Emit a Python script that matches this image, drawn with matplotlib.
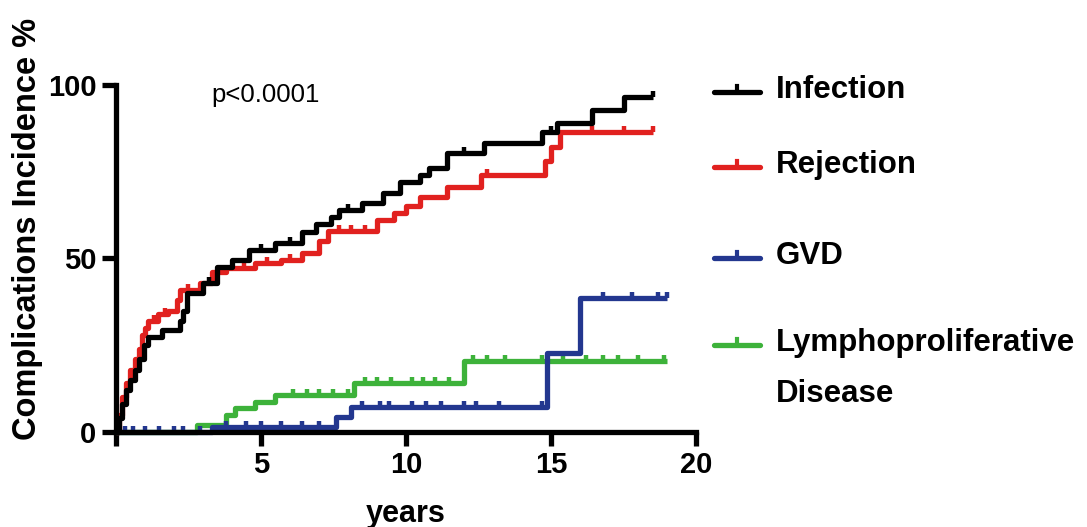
import numpy as np
import matplotlib
matplotlib.use("Agg")
import matplotlib.pyplot as plt
from matplotlib.path import Path
from matplotlib.lines import Line2D

plt.rcParams['font.family'] = ['Liberation Sans', 'DejaVu Sans']

# step curves: event times (years) and cumulative incidence (%) after each step
inf_t = [0, 0.1, 0.2, 0.35, 0.5, 0.65, 0.8, 0.95, 1.1, 1.6, 2.2, 2.3, 2.45, 3.0, 3.5, 4.0,
         4.6, 5.5, 6.4, 6.9, 7.4, 7.7, 8.5, 9.2, 9.8, 10.5, 10.8, 11.4, 12.7, 14.7, 15.2, 16.4, 17.5]
inf_y = [0, 4, 8, 12, 15, 18, 21, 25, 27.5, 29.5, 32, 35, 40, 43, 47.5, 49.5,
         52.5, 54.5, 57.5, 60, 62, 64, 66, 69, 72, 74, 76, 80.5, 83.3, 86.5, 89, 92.8, 96.5]
inf_end = 18.5
inf_cens = [3.2, 5.0, 6.0, 8.0, 12.0, 15.0, 18.5]

rej_t = [0, 0.1, 0.2, 0.35, 0.5, 0.65, 0.8, 0.9, 1.0, 1.1, 1.45, 1.8, 2.1, 2.2, 2.9, 3.3,
         3.8, 4.8, 5.7, 6.4, 7.0, 7.3, 9.0, 9.6, 10.0, 10.5, 11.4, 12.6, 14.8, 15.0, 15.3]
rej_y = [0, 5, 10, 14, 18, 21, 24, 28, 30, 32, 34, 35, 38, 41, 43, 46,
         47.3, 48.7, 49.6, 51.6, 55, 58, 61, 63, 65, 67.8, 70.6, 74, 78, 82, 86.5]
rej_end = 18.5
rej_cens = [1.3, 1.7, 2.5, 3.6, 4.4, 5.2, 6.0, 7.7, 8.1, 8.6, 12.8, 16.4, 17.5, 18.5]

gvd_t = [0, 3.3, 7.6, 8.1, 14.85, 16.0]
gvd_y = [0, 1.5, 4.3, 7.3, 22.8, 38.6]
gvd_end = 19.0
gvd_cens = [0.3, 0.6, 1.0, 1.5, 2.0, 2.3, 2.9, 3.8, 4.5, 5.0, 5.7, 6.4, 7.0,
            8.5, 9.1, 9.4, 10.2, 10.7, 11.2, 12.0, 12.4, 13.2, 14.7, 16.8, 17.8, 18.7, 19.0]

lpd_t = [0, 2.8, 3.8, 4.1, 4.8, 5.5, 8.2, 12.0]
lpd_y = [0, 2, 5, 7, 8.5, 10.7, 14, 20.5]
lpd_end = 19.0
lpd_cens = [6.1, 6.6, 7.0, 7.5, 8.0, 8.6, 9.0, 9.5, 10.2, 10.6, 11.0, 11.5,
            12.3, 12.8, 13.4, 14.7, 15.4, 16.2, 16.8, 17.3, 18.0, 18.9]

names = ["Infection", "Rejection", "GVD", "Lymphoproliferative\nDisease"]
colors = ["#000000", "#e1211f", "#23378f", "#3db23a"]

series = [(inf_t, inf_y, inf_end, inf_cens), (rej_t, rej_y, rej_end, rej_cens),
          (gvd_t, gvd_y, gvd_end, gvd_cens), (lpd_t, lpd_y, lpd_end, lpd_cens)]

fig = plt.figure(figsize=(10.87, 5.27), dpi=100)
ax = fig.add_axes([0.1067, 0.1803, 0.5336, 0.6584])

tick_marker = Path([(0, 0), (0, 1)])

# draw back to front so black ends up on top
for (t, y, end, cens), c in list(zip(series, colors))[::-1]:
    tt = list(t) + [end]
    yy = list(y) + [y[-1]]
    ax.step(tt, yy, where="post", color=c, lw=3.8, solid_capstyle="butt", clip_on=False)
    idx = np.searchsorted(t, cens, side="right") - 1
    cy = np.array(y)[idx]
    ax.plot(cens, cy, ls="none", marker=tick_marker, ms=9, mew=3.2, color=c, clip_on=False)

ax.set_xlim(0, 20)
ax.set_ylim(0, 100)
ax.set_xticks([0, 5, 10, 15, 20])
ax.set_xticklabels(["", "5", "10", "15", "20"])
ax.set_yticks([0, 50, 100])
for s in ["top", "right"]:
    ax.spines[s].set_visible(False)
for s in ["left", "bottom"]:
    ax.spines[s].set_linewidth(3.8)
ax.tick_params(width=3.8, length=10, labelsize=21, pad=4)
for lab in ax.get_xticklabels() + ax.get_yticklabels():
    lab.set_fontweight("bold")

ax.set_xlabel("years", fontsize=22, fontweight="bold", labelpad=14)
ax.set_ylabel("Complications Incidence %", fontsize=23.5, fontweight="bold", va="center")
ax.yaxis.set_label_coords(-0.152, 0.585)

ax.text(0.165, 0.971, "p<0.0001", transform=ax.transAxes, fontsize=18.5, va="center")

# legend drawn by hand to match the uneven spacing
leg_y = [0.825, 0.683, 0.510, 0.345]
for name, c, ly in zip(names, colors, leg_y):
    fig.add_artist(Line2D([0.657, 0.699], [ly, ly], color=c, lw=3.8,
                          solid_capstyle="round", transform=fig.transFigure))
    fig.add_artist(Line2D([0.678, 0.678], [ly, ly + 0.012], color=c, lw=3,
                          transform=fig.transFigure))
    for i, part in enumerate(name.split("\n")):
        fig.text(0.714, ly + 0.004 - i * 0.097, part, fontsize=22.5, fontweight="bold", va="center")

fig.savefig("out.png", dpi=100)
